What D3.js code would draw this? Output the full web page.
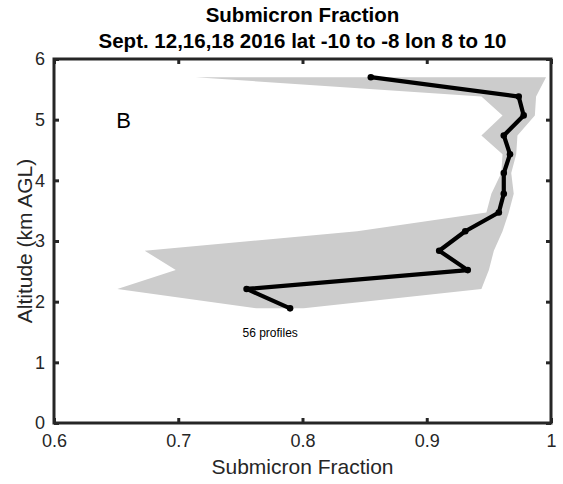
<!DOCTYPE html>
<html><head><meta charset="utf-8">
<script src="https://cdn.jsdelivr.net/npm/d3@7"></script>
<style>body{margin:0;background:#fff}svg{display:block}</style>
</head><body><svg id="c" width="563" height="484"></svg>
<script>
const altitude = [5.70, 5.38, 5.07, 4.74, 4.43, 4.12, 3.78, 3.47, 3.16, 2.84, 2.52, 2.21, 1.89];
const fraction = [0.855, 0.974, 0.978, 0.962, 0.967, 0.962, 0.962, 0.958, 0.931, 0.910, 0.933, 0.755, 0.790];
const fracMin  = [0.714, 0.944, 0.961, 0.944, 0.961, 0.960, 0.952, 0.948, 0.844, 0.673, 0.698, 0.651, 0.763];
const fracMax  = [0.996, 0.988, 0.987, 0.973, 0.972, 0.968, 0.970, 0.966, 0.961, 0.954, 0.950, 0.944, 0.801];
const xTicks = [0.6, 0.7, 0.8, 0.9, 1.0];
const xTickLabels = ["0.6", "0.7", "0.8", "0.9", "1"];
const yTicks = [0, 1, 2, 3, 4, 5, 6];
const titleLines = ["Submicron Fraction", "Sept. 12,16,18 2016 lat -10 to -8 lon 8 to 10"];
const xLabel = "Submicron Fraction";
const yLabel = "Altitude (km AGL)";
const panelLabel = {text: "B", x: 0.656, y: 4.99};
const noteLabel = {text: "56 profiles", x: 0.774, y: 1.48};

const L = 54, R = 551, T = 59, B = 423;
const x = d3.scaleLinear().domain([0.6, 1.0]).range([L, R]);
const y = d3.scaleLinear().domain([0, 6]).range([B, T]);
const svg = d3.select("#c");
const font = "'Liberation Sans', Arial, Helvetica, sans-serif";
const axisColor = "#262626";

// shaded range
const poly = altitude.map((a, i) => [x(fracMin[i]), y(a)])
  .concat(altitude.map((a, i) => [x(fracMax[i]), y(a)]).reverse());
svg.append("path").attr("d", "M" + poly.map(p => p.join(",")).join("L") + "Z")
  .attr("fill", "#cccccc").attr("stroke", "none");

// line
const line = d3.line().x((d, i) => x(fraction[i])).y(d => y(d));
svg.append("path").attr("d", line(altitude)).attr("fill", "none")
  .attr("stroke", "#000").attr("stroke-width", 4.2).attr("stroke-linejoin", "round");
svg.selectAll("circle.m").data(altitude).enter().append("circle")
  .attr("cx", (d, i) => x(fraction[i])).attr("cy", d => y(d)).attr("r", 3.3).attr("fill", "#000");

// frame
svg.append("rect").attr("x", L).attr("y", T).attr("width", R - L).attr("height", B - T)
  .attr("fill", "none").attr("stroke", axisColor).attr("stroke-width", 3);

// axes ticks (inward) and labels
const tl = 5;
const xb = svg.append("g").attr("transform", `translate(0,${B})`)
  .call(d3.axisBottom(x).tickValues(xTicks).tickFormat((d, i) => xTickLabels[i]).tickSizeInner(-tl).tickSizeOuter(0).tickPadding(11));
const xt = svg.append("g").attr("transform", `translate(0,${T})`)
  .call(d3.axisTop(x).tickValues(xTicks).tickFormat("").tickSizeInner(-tl).tickSizeOuter(0));
const yl = svg.append("g").attr("transform", `translate(${L},0)`)
  .call(d3.axisLeft(y).tickValues(yTicks).tickFormat(d3.format("d")).tickSizeInner(-tl).tickSizeOuter(0).tickPadding(9));
const yr = svg.append("g").attr("transform", `translate(${R},0)`)
  .call(d3.axisRight(y).tickValues(yTicks).tickFormat("").tickSizeInner(-tl).tickSizeOuter(0));
[xb, xt, yl, yr].forEach(g => {
  g.select(".domain").remove();
  g.selectAll(".tick line").attr("stroke", axisColor).attr("stroke-width", 3);
  g.selectAll(".tick text").attr("fill", axisColor).style("font-family", font).style("font-size", "18px");
});

// texts
svg.append("text").attr("x", (L + R) / 2).attr("y", 474).attr("text-anchor", "middle")
  .style("font-family", font).style("font-size", "21px").attr("fill", axisColor).text(xLabel);
svg.append("text").attr("transform", `translate(32,${(T + B) / 2}) rotate(-90)`).attr("text-anchor", "middle")
  .style("font-family", font).style("font-size", "21px").attr("fill", axisColor).text(yLabel);
titleLines.forEach((t, i) => {
  svg.append("text").attr("x", (L + R) / 2).attr("y", 22 + i * 26).attr("text-anchor", "middle")
    .style("font-family", font).style("font-size", "20.5px").style("font-weight", "bold").attr("fill", "#000").text(t);
});
svg.append("text").attr("x", x(panelLabel.x)).attr("y", y(panelLabel.y)).attr("dy", "0.35em").attr("text-anchor", "middle")
  .style("font-family", font).style("font-size", "22px").attr("fill", "#000").text(panelLabel.text);
svg.append("text").attr("x", x(noteLabel.x)).attr("y", y(noteLabel.y)).attr("dy", "0.35em").attr("text-anchor", "middle")
  .style("font-family", font).style("font-size", "12px").attr("fill", "#000").text(noteLabel.text);
</script></body></html>
